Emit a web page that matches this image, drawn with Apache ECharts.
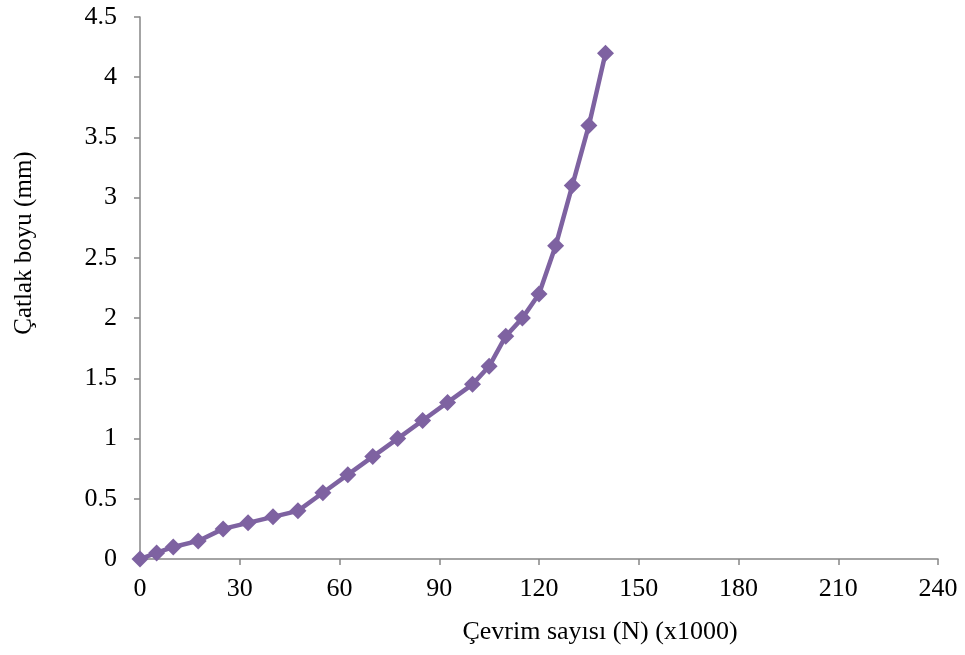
<!DOCTYPE html>
<html>
<head>
<meta charset="utf-8">
<script src="https://cdn.jsdelivr.net/npm/echarts@6/dist/echarts.min.js"></script>
<style>html,body{margin:0;padding:0;background:#fff;}#c{width:965px;height:655px;}</style>
</head>
<body>
<div id="c"></div>
<script>
var cycles = [0, 5, 10, 17.5, 25, 32.5, 40, 47.5, 55, 62.5, 70, 77.5, 85, 92.5, 100, 105, 110, 115, 120, 125, 130, 135, 140];
var crackLength = [0, 0.05, 0.1, 0.15, 0.25, 0.3, 0.35, 0.4, 0.55, 0.7, 0.85, 1.0, 1.15, 1.3, 1.45, 1.6, 1.85, 2.0, 2.2, 2.6, 3.1, 3.6, 4.2];
var xTitle = 'Çevrim sayısı (N) (x1000)';
var yTitle = 'Çatlak boyu (mm)';

var chart = echarts.init(document.getElementById('c'), null, {renderer: 'canvas'});
var font = '"Liberation Serif", "Times New Roman", serif';
var axisColor = '#868686';
chart.setOption({
  animation: false,
  backgroundColor: '#ffffff',
  grid: {left: 140, right: 27, top: 17, bottom: 96, containLabel: false},
  xAxis: {
    type: 'value', min: 0, max: 240, interval: 30,
    name: xTitle, nameLocation: 'middle', nameGap: 60,
    nameTextStyle: {fontFamily: font, fontSize: 26, color: '#000', padding: [0, 0, 0, 122]},
    axisLine: {show: true, lineStyle: {color: axisColor, width: 1.5}},
    axisTick: {show: true, length: 6, lineStyle: {color: axisColor, width: 1.5}},
    axisLabel: {fontFamily: font, fontSize: 26, color: '#000', margin: 17},
    splitLine: {show: false}
  },
  yAxis: {
    type: 'value', min: 0, max: 4.5, interval: 0.5,
    name: yTitle, nameLocation: 'middle', nameGap: 103, nameRotate: 90,
    nameTextStyle: {fontFamily: font, fontSize: 25, color: '#000', padding: [0, 0, 0, 90]},
    axisLine: {show: true, lineStyle: {color: axisColor, width: 1.5}},
    axisTick: {show: true, length: 6, lineStyle: {color: axisColor, width: 1.5}},
    axisLabel: {fontFamily: font, fontSize: 26, color: '#000', margin: 23},
    splitLine: {show: false}
  },
  series: [{
    type: 'line',
    data: cycles.map(function (x, i) { return [x, crackLength[i]]; }),
    symbol: 'diamond', symbolSize: 17,
    lineStyle: {color: '#7E62A1', width: 4.5},
    itemStyle: {color: '#7E62A1'},
    clip: false
  }]
});
</script>
</body>
</html>
